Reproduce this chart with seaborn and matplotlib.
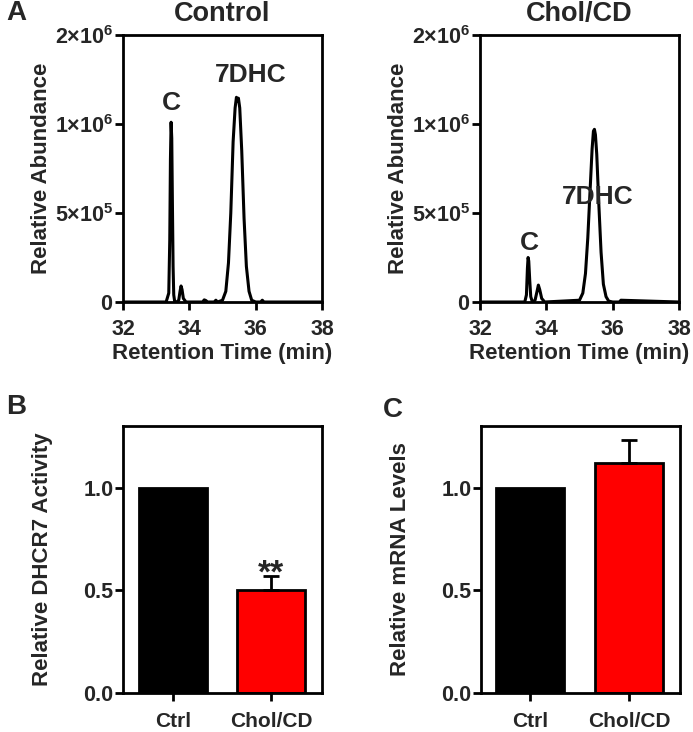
import numpy as np
import pandas as pd
import matplotlib
matplotlib.use("Agg")
import matplotlib.pyplot as plt
import seaborn as sns

# ---------------- data ----------------
# Chromatogram traces (retention time in min, abundance)
ctrl_time = [32.0, 33.30, 33.38, 33.41, 33.43, 33.45, 33.47, 33.49, 33.51, 33.53, 33.56,
             33.62, 33.68, 33.72, 33.75, 33.78, 33.82, 33.90, 34.40, 34.45, 34.50, 34.55,
             34.75, 34.80, 34.85, 35.00, 35.10, 35.18, 35.25, 35.32, 35.38, 35.42, 35.45,
             35.48, 35.52, 35.58, 35.65, 35.72, 35.80, 35.88, 36.00, 36.15, 36.20, 36.25, 38.0]
ctrl_abund = [0, 0, 0.05e6, 0.35e6, 0.80e6, 1.02e6, 0.92e6, 0.55e6, 0.20e6, 0.04e6, 0,
              0, 0.01e6, 0.06e6, 0.09e6, 0.07e6, 0.02e6, 0, 0, 0.012e6, 0.008e6, 0,
              0, 0.01e6, 0, 0.01e6, 0.06e6, 0.22e6, 0.50e6, 0.90e6, 1.18e6, 1.30e6, 1.26e6,
              1.29e6, 1.18e6, 0.85e6, 0.47e6, 0.20e6, 0.06e6, 0.01e6, 0, 0, 0.01e6, 0, 0]

chol_time = [32.0, 33.35, 33.40, 33.43, 33.45, 33.47, 33.50, 33.53, 33.58, 33.66, 33.72,
             33.76, 33.80, 33.86, 33.95, 35.00, 35.10, 35.18, 35.25, 35.32, 35.38, 35.42,
             35.45, 35.48, 35.52, 35.58, 35.65, 35.72, 35.80, 35.88, 36.00, 36.20, 36.25, 38.0]
chol_abund = [0, 0, 0.04e6, 0.19e6, 0.25e6, 0.23e6, 0.12e6, 0.03e6, 0, 0.01e6, 0.06e6,
              0.095e6, 0.07e6, 0.02e6, 0, 0.01e6, 0.05e6, 0.16e6, 0.36e6, 0.63e6, 0.86e6, 0.96e6,
              0.97e6, 0.94e6, 0.83e6, 0.56e6, 0.28e6, 0.10e6, 0.03e6, 0.005e6, 0, 0, 0.01e6, 0]

groups = ["Ctrl", "Chol/CD"]
dhcr7_activity = [1.0, 0.50]
dhcr7_err = [0.0, 0.07]
mrna_levels = [1.0, 1.12]
mrna_err = [0.0, 0.11]

chrom_xticks = [32, 34, 36, 38]
chrom_yticks = [0, 5e5, 1e6, 2e6]
chrom_yticklabels = [r"$\mathbf{0}$", r"$\mathbf{5{\times}10^5}$", r"$\mathbf{1{\times}10^6}$", r"$\mathbf{2{\times}10^6}$"]
bar_yticks = [0.0, 0.5, 1.0]
bar_yticklabels = ["0.0", "0.5", "1.0"]

# ---------------- style ----------------
sns.set_style("white")
plt.rcParams["font.family"] = ["Liberation Sans", "DejaVu Sans"]
plt.rcParams["font.weight"] = "bold"
plt.rcParams["mathtext.fontset"] = "custom"
plt.rcParams["mathtext.bf"] = "Liberation Sans:bold"
plt.rcParams["mathtext.rm"] = "Liberation Sans:bold"

W, H = 693, 732
fig = plt.figure(figsize=(W / 100, H / 100), dpi=100)

def rect(l, r, t, b):
    return [l / W, (H - b) / H, (r - l) / W, (b - t) / H]

ax1 = fig.add_axes(rect(123, 322, 35, 302))
ax2 = fig.add_axes(rect(480, 679, 35, 302))
ax3 = fig.add_axes(rect(123, 322, 426, 693))
ax4 = fig.add_axes(rect(481, 680, 426, 693))

LW = 2.0
TICK_FS = 15.5
LAB_FS = 16

def style_axes(ax):
    for s in ax.spines.values():
        s.set_visible(True)
        s.set_linewidth(LW)
        s.set_color("black")
    ax.tick_params(axis="both", direction="out", length=6, width=LW, color="black",
                   labelsize=TICK_FS, bottom=True, left=True)
    ax.tick_params(axis="y", pad=1)
    for lab in ax.get_xticklabels() + ax.get_yticklabels():
        lab.set_fontweight("bold")

# segmented y axis: 0-1e6 uses two thirds of the height, 1e6-2e6 the top third
def seg_fwd(y):
    y = np.asarray(y, dtype=float)
    return np.where(y <= 1e6, y / 1e6 * 2.0, 2.0 + (y - 1e6) / 1e6)

def seg_inv(u):
    u = np.asarray(u, dtype=float)
    return np.where(u <= 2.0, u / 2.0 * 1e6, 1e6 + (u - 2.0) * 1e6)

def chrom(ax, t, a, title, labels):
    df = pd.DataFrame({"t": t, "a": a})
    sns.lineplot(data=df, x="t", y="a", ax=ax, color="black", linewidth=2.2, sort=False)
    ax.set_yscale("function", functions=(seg_fwd, seg_inv))
    ax.set_xlim(32, 38)
    ax.set_ylim(0, 2e6)
    ax.set_xticks(chrom_xticks)
    ax.set_xticklabels([str(v) for v in chrom_xticks])
    ax.set_yticks(chrom_yticks)
    ax.set_yticklabels(chrom_yticklabels)
    ax.minorticks_off()
    ax.set_xlabel("Retention Time (min)", fontsize=LAB_FS, fontweight="bold")
    ax.set_ylabel("Relative Abundance", fontsize=LAB_FS, fontweight="bold")
    ax.xaxis.set_label_coords(0.5, -0.155)
    ax.yaxis.set_label_coords(-0.355, 0.5)
    ax.set_title(title, fontsize=19.5, fontweight="bold", pad=10)
    for txt, x, y in labels:
        ax.text(x, y, txt, ha="center", va="center", fontsize=19, fontweight="bold")
    style_axes(ax)
    ax.tick_params(axis="x", pad=6)

chrom(ax1, ctrl_time, ctrl_abund, "Control", [("C", 33.45, 1.236e6), ("7DHC", 35.85, 1.55e6)])
chrom(ax2, chol_time, chol_abund, "Chol/CD", [("C", 33.5, 0.33e6), ("7DHC", 35.55, 0.59e6)])

def bars(ax, vals, errs, ylabel, xlim, star=None):
    df = pd.DataFrame({"g": groups, "v": vals})
    sns.barplot(data=df, x="g", y="v", hue="g", palette=["black", "red"], ax=ax,
                width=0.69, edgecolor="black", linewidth=LW, errorbar=None, legend=False,
                saturation=1)
    ax.errorbar([1], [vals[1]], yerr=[[0], [errs[1]]], fmt="none", ecolor="black",
                elinewidth=LW, capsize=5.5, capthick=LW)
    ax.set_xlim(*xlim)
    ax.set_ylim(0, 1.3)
    ax.set_yticks(bar_yticks)
    ax.set_yticklabels(bar_yticklabels)
    ax.set_xlabel("")
    ax.set_ylabel(ylabel, fontsize=LAB_FS, fontweight="bold")
    ax.yaxis.set_label_coords(-0.35, 0.5)
    if star:
        ax.text(1, 0.537, star, ha="center", va="baseline", fontsize=24, fontweight="bold")
    style_axes(ax)
    ax.tick_params(axis="x", pad=8, labelsize=15)

bars(ax3, dhcr7_activity, dhcr7_err, "Relative DHCR7 Activity", (-0.51, 1.52), star="**")
bars(ax4, mrna_levels, mrna_err, "Relative mRNA Levels", (-0.495, 1.515))

fig.text(6 / W, 1 - 13 / H, "A", fontsize=20, fontweight="bold", va="center", ha="left")
fig.text(6 / W, 1 - 407 / H, "B", fontsize=20, fontweight="bold", va="center", ha="left")
fig.text(383 / W, 1 - 410 / H, "C", fontsize=20, fontweight="bold", va="center", ha="left")

fig.savefig("out.png", dpi=100)
